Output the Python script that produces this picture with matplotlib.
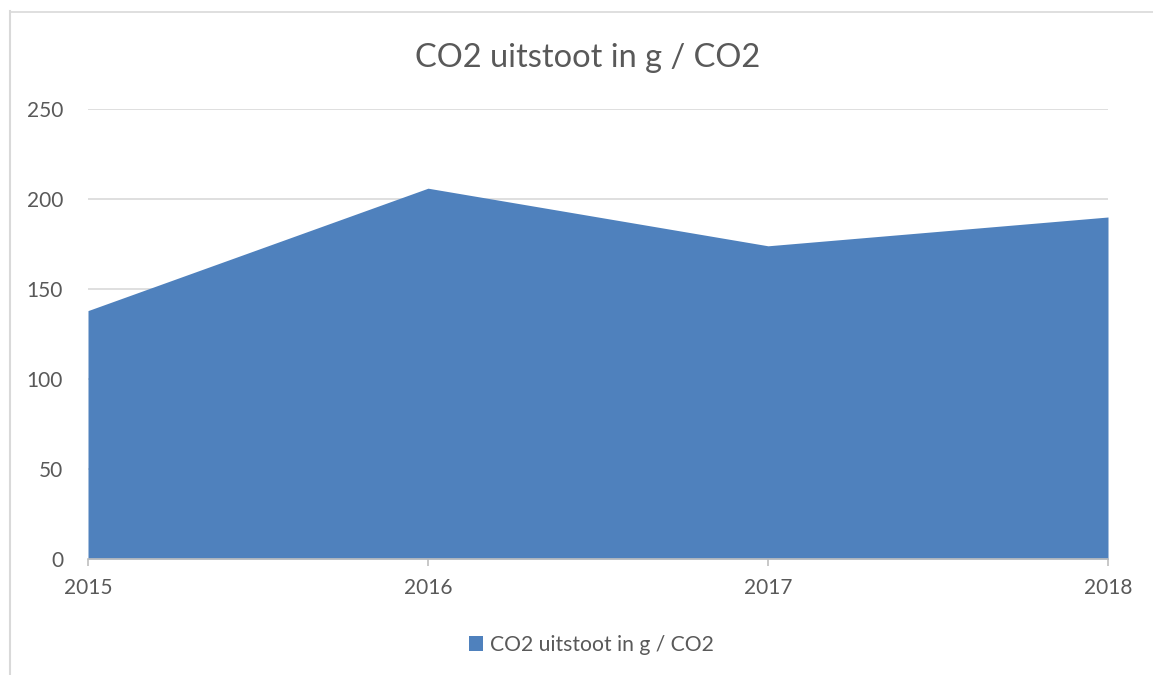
import matplotlib
matplotlib.use("Agg")
import matplotlib.pyplot as plt
from matplotlib.patches import Patch
from matplotlib.lines import Line2D

years = ["2015", "2016", "2017", "2018"]
values = [138, 206, 174, 190]
series_name = "CO2 uitstoot in g / CO2"
title = "CO2 uitstoot in g / CO2"
yticks = [0, 50, 100, 150, 200, 250]

plt.rcParams['font.family'] = ['Lato', 'DejaVu Sans']
text_color = "#595959"
area_color = "#4F81BD"
grid_color = "#D9D9D9"

W, H = 1153, 675
fig = plt.figure(figsize=(W / 100, H / 100), dpi=100)
ax = fig.add_axes([88 / W, 1 - 559 / H, 1020 / W, 450 / H])

x = list(range(len(years)))
ax.fill_between(x, values, 0, color=area_color, linewidth=0, zorder=2)
ax.set_xlim(0, len(years) - 1)
ax.set_ylim(0, 250)
ax.set_yticks(yticks)
ax.set_xticks(x)
ax.set_xticklabels(years)
ax.grid(axis='y', color=grid_color, linewidth=1.2, zorder=0)
for s in ["top", "right", "left"]:
    ax.spines[s].set_visible(False)
ax.spines["bottom"].set_color("#BFBFBF")
ax.spines["bottom"].set_linewidth(1.2)
ax.spines["bottom"].set_zorder(3)
ax.tick_params(axis='y', length=0, pad=18, labelsize=15, labelcolor=text_color)
ax.tick_params(axis='x', length=5, width=1.2, color="#BFBFBF", pad=9, labelsize=15, labelcolor=text_color)

fig.text(0.5 * (88 + 1108) / W - 10 / W, 1 - 58 / H, title, ha='center', va='center',
         fontsize=23.5, color=text_color)

handles = [Patch(facecolor=area_color, edgecolor='none')]
leg = fig.legend(handles, [series_name], loc='center', bbox_to_anchor=(591 / W, 1 - 645 / H),
                 frameon=False, fontsize=15.2, handlelength=0.7, handleheight=0.7,
                 handletextpad=0.3)
for t in leg.get_texts():
    t.set_color(text_color)

# chart frame lines (left & top)
fig.add_artist(Line2D([9.5 / W, 9.5 / W], [0, 1 - 11 / H], transform=fig.transFigure,
                      color="#D9D9D9", linewidth=1.5))
fig.add_artist(Line2D([9.5 / W, 1], [1 - 11.5 / H, 1 - 11.5 / H], transform=fig.transFigure,
                      color="#D9D9D9", linewidth=1.2))

fig.savefig("out.png", dpi=100)
